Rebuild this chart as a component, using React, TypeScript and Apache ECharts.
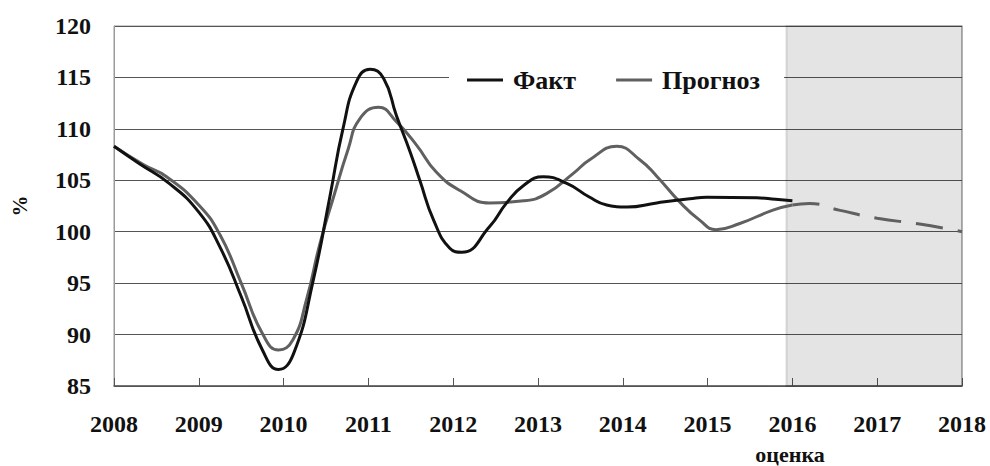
import React, { useEffect, useRef } from "react";
import * as echarts from "echarts";

// Tick labels
const yearTicks = [2008, 2009, 2010, 2011, 2012, 2013, 2014, 2015, 2016, 2017, 2018];
const valueTicks = [85, 90, 95, 100, 105, 110, 115, 120];

// Факт (actual)
const factYears = [2008.0, 2008.3, 2008.65, 2009.0, 2009.25, 2009.5, 2009.75, 2009.94, 2010.12, 2010.35, 2010.55, 2010.7, 2010.86, 2011.02, 2011.18, 2011.33, 2011.49, 2011.61, 2011.77, 2011.96, 2012.1, 2012.43, 2012.63, 2012.83, 2013.06, 2013.34, 2013.6, 2013.81, 2014.05, 2014.4, 2014.79, 2014.99, 2015.58, 2015.8, 2016.0];
const factValues = [108.3, 106.6, 104.7, 101.9, 98.5, 93.7, 88.5, 86.6, 88.2, 95.3, 103.6, 110.0, 114.6, 115.8, 114.9, 111.3, 107.8, 104.9, 101.1, 98.4, 98.0, 100.5, 102.8, 104.5, 105.35, 104.7, 103.4, 102.6, 102.4, 102.8, 103.2, 103.35, 103.3, 103.15, 103.0];

// Прогноз (forecast, solid part)
const forecastYears = [2008.0, 2008.35, 2008.62, 2009.0, 2009.25, 2009.5, 2009.75, 2009.94, 2010.11, 2010.27, 2010.43, 2010.59, 2010.76, 2010.9, 2011.12, 2011.33, 2011.57, 2011.8, 2012.08, 2012.43, 2012.83, 2013.1, 2013.42, 2013.61, 2013.93, 2014.2, 2014.4, 2014.67, 2014.91, 2015.1, 2015.38, 2015.77, 2016.0];
const forecastValues = [108.3, 106.5, 105.35, 102.6, 99.7, 95.0, 90.1, 88.5, 89.5, 93.4, 98.9, 103.4, 108.0, 111.0, 112.1, 110.7, 108.4, 105.8, 104.0, 102.8, 103.0, 103.7, 105.7, 107.0, 108.3, 107.0, 105.4, 102.9, 101.1, 100.2, 100.8, 102.1, 102.6];

// Прогноз (estimate 2016 – 2018, dashed part)
const outlookYears = [2016.0, 2016.2, 2016.55, 2017.0, 2017.5, 2018.0];
const outlookValues = [102.6, 102.75, 102.1, 101.3, 100.75, 100.0];

const pairs = (xs: number[], ys: number[]) => xs.map((x, i) => [x, ys[i]]);

const FONT = "'Liberation Serif', 'Times New Roman', serif";
const BLACK = "#111111";
const GRAY = "#606060";

export default function App() {
  const ref = useRef<HTMLDivElement>(null);

  useEffect(() => {
    if (!ref.current) return;
    const chart = echarts.init(ref.current, undefined, { renderer: "svg" });
    chart.setOption({
      animation: false,
      backgroundColor: "#ffffff",
      grid: {
        left: 114,
        right: 28,
        top: 26,
        bottom: 80,
        show: true,
        borderColor: "#9a9a9a",
        borderWidth: 1,
      },
      legend: {
        data: ["Факт", "Прогноз"],
        left: 449,
        top: 59,
        backgroundColor: "#ffffff",
        padding: [8, 24, 8, 18],
        icon: "rect",
        itemWidth: 36,
        itemHeight: 3,
        itemGap: 40,
        textStyle: {
          fontFamily: FONT,
          fontWeight: "bold",
          fontSize: 26,
          color: BLACK,
          padding: [0, 0, 0, 5],
        },
      },
      xAxis: {
        type: "value",
        min: yearTicks[0],
        max: yearTicks[yearTicks.length - 1],
        interval: 1,
        splitLine: { show: false },
        axisLine: { show: true, lineStyle: { color: "#555555", width: 1.5 } },
        axisTick: { show: true, inside: true, length: 8, lineStyle: { color: "#555555", width: 1 } },
        axisLabel: {
          margin: 26,
          fontFamily: FONT,
          fontWeight: "bold",
          fontSize: 24,
          color: BLACK,
          formatter: (v: number) => String(Math.round(v)),
        },
      },
      yAxis: {
        type: "value",
        min: valueTicks[0],
        max: valueTicks[valueTicks.length - 1],
        interval: 5,
        name: "%",
        nameLocation: "middle",
        nameRotate: 90,
        nameGap: 84,
        nameTextStyle: { fontFamily: FONT, fontWeight: "bold", fontSize: 21, color: BLACK },
        axisLine: { show: true, lineStyle: { color: "#9a9a9a", width: 1 } },
        axisTick: { show: false },
        splitLine: { show: true, lineStyle: { color: "#555555", width: 1 } },
        axisLabel: {
          margin: 23,
          fontFamily: FONT,
          fontWeight: "bold",
          fontSize: 24,
          color: BLACK,
        },
      },
      graphic: [
        {
          type: "text",
          x: 790,
          y: 454,
          style: {
            text: "оценка",
            fontFamily: FONT,
            fontWeight: "bold",
            fontSize: 22,
            fill: BLACK,
            textAlign: "center",
            textVerticalAlign: "middle",
          },
        },
      ],
      series: [
        {
          name: "Прогноз",
          type: "line",
          data: pairs(forecastYears, forecastValues),
          smooth: 0.5,
          showSymbol: false,
          symbol: "none",
          color: GRAY,
          lineStyle: { color: GRAY, width: 3 },
          z: 3,
        },
        {
          name: "Факт",
          type: "line",
          data: pairs(factYears, factValues),
          smooth: 0.5,
          showSymbol: false,
          symbol: "none",
          color: BLACK,
          lineStyle: { color: BLACK, width: 3 },
          z: 4,
        },
        {
          name: "Прогноз 2016-2018",
          type: "line",
          data: pairs(outlookYears, outlookValues),
          smooth: 0.5,
          showSymbol: false,
          symbol: "none",
          clip: false,
          color: GRAY,
          lineStyle: { color: GRAY, width: 3, type: [27, 15] },
          z: 3,
          markArea: {
            silent: true,
            itemStyle: {
              color: "rgba(0,0,0,0.105)",
              borderColor: "rgba(0,0,0,0.12)",
              borderWidth: 2,
            },
            data: [[{ xAxis: 2015.93, yAxis: 120.5 }, { xAxis: 2018.04, yAxis: 84.8 }]],
          },
        },
      ],
    });
    return () => chart.dispose();
  }, []);

  return (
    <div
      ref={ref}
      style={{ position: "fixed", left: 0, top: 0, width: 990, height: 466 }}
    />
  );
}
